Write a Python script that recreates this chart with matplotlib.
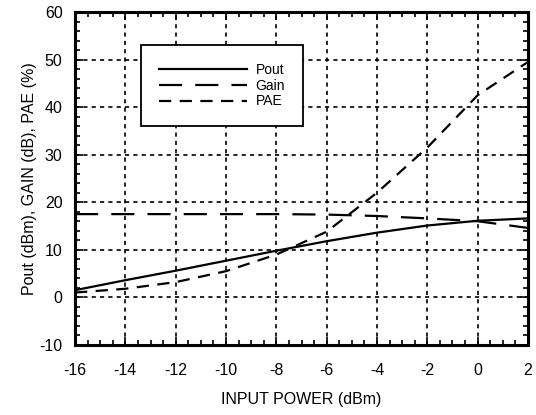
import matplotlib
matplotlib.use('Agg')
import matplotlib.pyplot as plt
from matplotlib.ticker import MultipleLocator

# values
input_power = [-16, -14, -12, -10, -8, -6, -4, -2, 0, 2]
pout = [1.5, 3.6, 5.6, 7.7, 9.8, 11.8, 13.6, 15.1, 16.1, 16.6]
gain = [17.5, 17.5, 17.5, 17.5, 17.5, 17.4, 17.1, 16.6, 16.0, 14.6]
pae = [1.0, 1.8, 3.2, 5.5, 9.0, 13.8, 22.0, 31.5, 42.5, 49.5]

plt.rcParams['font.family'] = ['Liberation Sans', 'DejaVu Sans']
plt.rcParams['axes.unicode_minus'] = False


def main():
    fig = plt.figure(figsize=(5.36, 4.15), dpi=100)
    ax = fig.add_axes([0.140, 0.169, 0.845, 0.802])

    lw = 1.6
    ax.plot(input_power, pout, color='black', lw=lw, label='Pout', zorder=3)
    ax.plot(input_power, gain, color='black', lw=lw, dashes=(10.4, 5.9), label='Gain', zorder=3)
    ax.plot(input_power, pae, color='black', lw=lw, dashes=(5.5, 3.8), label='PAE', zorder=3)

    ax.set_xlim(-16, 2)
    ax.set_ylim(-10, 60)
    ax.xaxis.set_major_locator(MultipleLocator(2))
    ax.xaxis.set_minor_locator(MultipleLocator(0.5))
    ax.yaxis.set_major_locator(MultipleLocator(10))
    ax.yaxis.set_minor_locator(MultipleLocator(2))

    ax.grid(True, which='major', color='black', lw=1.2, linestyle=(0, (2.5, 2.5)))
    ax.tick_params(which='both', direction='in', top=True, right=True,
                   labelsize=11.5, width=1.2)
    ax.tick_params(which='major', length=6)
    ax.tick_params(which='minor', length=3.5)
    ax.tick_params(axis='x', pad=13)
    ax.tick_params(axis='y', pad=9)
    for sp in ax.spines.values():
        sp.set_linewidth(2.2)

    ax.set_xlabel('INPUT POWER (dBm)', fontsize=11.5, labelpad=10)
    ax.set_ylabel('Pout (dBm), GAIN (dB), PAE (%)', fontsize=11.5, labelpad=2)

    leg = ax.legend(loc='upper left', bbox_to_anchor=(0.1457, 0.9009), borderaxespad=0,
                    fontsize=10, frameon=True, fancybox=False, edgecolor='black',
                    handlelength=6.3, handletextpad=0.65, labelspacing=0.12,
                    borderpad=1.3)
    leg.get_frame().set_linewidth(1.3)
    leg.get_frame().set_alpha(1)

    fig.savefig('out.png', dpi=100)


if __name__ == '__main__':
    main()
